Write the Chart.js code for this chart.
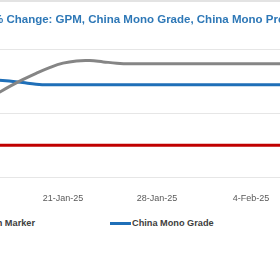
<!DOCTYPE html>
<html>
<head>
<meta charset="utf-8">
<script src="https://cdn.jsdelivr.net/npm/chart.js@4"></script>
<style>
html, body { margin: 0; padding: 0; background: #fff; }
#wrap { position: relative; width: 280px; height: 280px; overflow: hidden; }
#topline { position: absolute; left: 0; top: 0; width: 280px; height: 2px; background: #e3e3e3; }
#box { position: absolute; left: -80px; top: 0; }
.lg { position: absolute; top: 217px; height: 12px; font: bold 9.2px "Liberation Sans", Arial, sans-serif; color: #404040; white-space: nowrap; display: flex; align-items: center; }
.lg i { display: inline-block; width: 21px; height: 3px; margin-right: 1px; }
</style>
</head>
<body>
<div id="wrap">
  <div id="box"><canvas id="myChart" width="460" height="210"></canvas></div>
  <div id="topline"></div>
  <div id="legend"></div>
</div>
<script>
// 日付 (14-Jan-25 .. 11-Feb-25)
const dates = [
  "14-Jan-25", "15-Jan-25", "16-Jan-25", "17-Jan-25", "18-Jan-25", "19-Jan-25", "20-Jan-25",
  "21-Jan-25", "22-Jan-25", "23-Jan-25", "24-Jan-25", "25-Jan-25", "26-Jan-25", "27-Jan-25",
  "28-Jan-25", "29-Jan-25", "30-Jan-25", "31-Jan-25", "1-Feb-25", "2-Feb-25", "3-Feb-25",
  "4-Feb-25", "5-Feb-25", "6-Feb-25", "7-Feb-25", "8-Feb-25", "9-Feb-25", "10-Feb-25",
  "11-Feb-25",
]
const tickDates = ["14-Jan-25", "21-Jan-25", "28-Jan-25", "4-Feb-25", "11-Feb-25"]

const names = ["Global Polysilicon Marker", "China Mono Grade", "China Mono Premium"]
const colors = ["#c00000", "#1f6fb8", "#858585"]

const gpm = [
  5.0, 5.0, 5.0, 5.0, 5.0, 5.0, 5.0,
  5.0, 5.0, 5.0, 5.0, 5.0, 5.0, 5.0,
  5.0, 5.0, 5.0, 5.0, 5.0, 5.0, 5.0,
  5.0, 5.0, 5.0, 5.0, 5.0, 5.0, 5.0,
  5.0,
]
const monoGrade = [
  15.3, 15.3, 15.25, 15.1, 14.85, 14.6, 14.5,
  14.5, 14.5, 14.5, 14.5, 14.5, 14.5, 14.5,
  14.5, 14.5, 14.5, 14.5, 14.5, 14.5, 14.5,
  14.5, 14.5, 14.5, 14.5, 14.5, 14.5, 14.5,
  14.5,
]
const monoPremium = [
  10.6, 11.8, 13.0, 14.2, 15.3, 16.3, 17.2,
  17.9, 18.25, 18.3, 18.1, 17.9, 17.8, 17.8,
  17.8, 17.8, 17.8, 17.8, 17.8, 17.8, 17.8,
  17.8, 17.8, 17.8, 17.8, 17.8, 17.8, 17.8,
  17.8,
]
const yTicks = [0, 10, 20]

const series = [gpm, monoGrade, monoPremium]
const font = "'Liberation Sans', Arial, sans-serif"

const ctx = document.getElementById("myChart")

new Chart(ctx, {
  type: "line",
  data: {
    labels: dates,
    datasets: series.map((d, i) => {
      return {
        label: names[i],
        data: d,
        borderColor: colors[i],
        backgroundColor: colors[i],
        borderWidth: 3,
        pointRadius: 0,
        tension: 0.4,
        order: 2 - i,
      }
    }),
  },
  options: {
    responsive: false,
    animation: false,
    devicePixelRatio: 1,
    layout: { padding: { left: 43, right: 35, top: 0, bottom: 3 } },
    plugins: {
      legend: { display: false },
      tooltip: { enabled: false },
      title: {
        display: true,
        text: "% Change: GPM, China Mono Grade, China Mono Premium",
        color: "#2e78b7",
        font: { family: font, size: 11.5, weight: "bold" },
        padding: { top: 13, bottom: 23 },
      },
    },
    scales: {
      x: {
        offset: false,
        grid: { display: false },
        border: { display: false },
        afterFit: (s) => { s.height = 30 },
        ticks: {
          autoSkip: false,
          maxRotation: 0,
          padding: 8,
          color: "#595959",
          font: { family: font, size: 9 },
          callback: function (v, i) {
            let lb = dates[i]
            return tickDates.includes(lb) ? lb : null
          },
        },
      },
      y: {
        min: yTicks[0],
        max: yTicks[yTicks.length - 1],
        afterFit: (s) => { s.width = 6 },
        grid: { color: "#e6e6e6", drawTicks: false },
        border: { display: false },
        ticks: {
          stepSize: 10,
          color: "#595959",
          font: { family: font, size: 9 },
          callback: (v) => v + "%",
        },
      },
    },
  },
})

// 凡例
const lgPos = [{ right: 245 }, { left: 110 }, { left: 300 }]
const legend = document.getElementById("legend")
names.forEach((n, i) => {
  let el = document.createElement("div")
  el.className = "lg"
  if (lgPos[i].left !== undefined) el.style.left = lgPos[i].left + "px"
  else el.style.right = lgPos[i].right + "px"
  el.innerHTML = '<i style="background:' + colors[i] + '"></i>' + n
  legend.appendChild(el)
})
</script>
</body>
</html>
